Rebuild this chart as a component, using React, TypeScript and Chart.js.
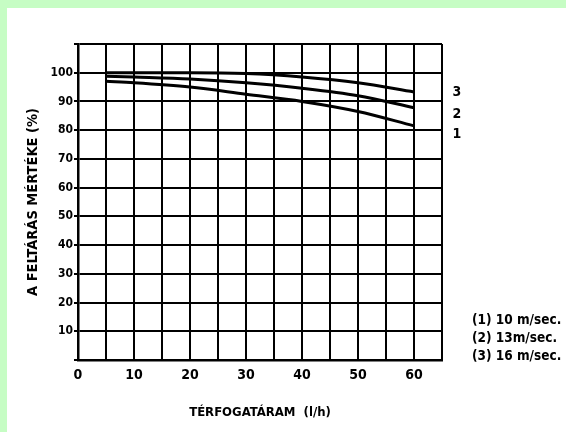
import React, { useEffect, useRef } from "react";
import { Chart, registerables } from "chart.js";

Chart.register(...registerables);

const flowRates = [5, 10, 20, 30, 40, 50, 60];
const curve1 = [97, 96.5, 95, 92.5, 90, 86.5, 81.5];
const curve2 = [98.8, 98.5, 97.8, 96.5, 94.6, 92, 87.8];
const curve3 = [100, 100, 100, 99.7, 98.5, 96.5, 93.3];
const curveNames = ["1", "2", "3"];
const legendLines = ["(1) 10 m/sec.", "(2) 13m/sec.", "(3) 16 m/sec."];
const yTitle = "A FELTÁRÁS MÉRTÉKE (%)";
const xTitle = "TÉRFOGATÁRAM  (l/h)";

const FONT = "'DejaVu Sans Condensed', 'Liberation Sans', sans-serif";

const toPoints = (ys: number[]) => flowRates.map((x, i) => ({ x, y: ys[i] }));

const annotations = {
  id: "annotations",
  afterDraw(chart: any) {
    const { ctx, chartArea, scales } = chart;
    const y = scales.y;
    ctx.save();
    ctx.fillStyle = "#000";
    ctx.font = `bold 14px ${FONT}`;
    ctx.textAlign = "center";
    ctx.textBaseline = "middle";
    const labelVals = [78.5, 85.5, 93];
    curveNames.forEach((n, i) => {
      ctx.fillText(n, chartArea.right + 15, y.getPixelForValue(labelVals[i]));
    });
    ctx.font = `bold 13.5px ${FONT}`;
    ctx.textAlign = "left";
    legendLines.forEach((t, i) => {
      ctx.fillText(t, chartArea.right + 30, chartArea.bottom - 40 + i * 18);
    });
    ctx.restore();
  },
};

export default function App() {
  const ref = useRef<HTMLCanvasElement>(null);
  useEffect(() => {
    if (!ref.current) return;
    const lineStyle = {
      borderColor: "#000",
      borderWidth: 3,
      pointRadius: 0,
      fill: false,
      tension: 0.4,
      cubicInterpolationMode: "monotone" as const,
    };
    const chart = new Chart(ref.current, {
      type: "line",
      data: {
        datasets: [
          { label: "1", data: toPoints(curve1), ...lineStyle },
          { label: "2", data: toPoints(curve2), ...lineStyle },
          { label: "3", data: toPoints(curve3), ...lineStyle },
        ],
      },
      options: {
        responsive: false,
        animation: false,
        layout: { padding: { left: 0, top: 44, right: 124, bottom: 0 } },
        plugins: { legend: { display: false }, tooltip: { enabled: false } },
        scales: {
          x: {
            type: "linear",
            min: 0,
            max: 65,
            afterFit: (s: any) => { s.height = 72; },
            border: { color: "#000", width: 2.5 },
            grid: { color: "#000", lineWidth: 2, drawTicks: false },
            ticks: {
              stepSize: 5,
              padding: 7,
              color: "#000",
              maxRotation: 0,
              autoSkip: false,
              font: { family: FONT, size: 14, weight: "bold" },
              callback: (v: any) => (v % 10 === 0 && v <= 60 ? String(v) : ""),
            },
            title: {
              display: true,
              text: xTitle,
              color: "#000",
              font: { family: FONT, size: 13, weight: "bold" },
              padding: { top: 0, bottom: 12 },
            },
          },
          y: {
            min: 0,
            max: 110,
            afterFit: (s: any) => { s.width = 78; },
            border: { color: "#000", width: 2.5 },
            grid: { color: "#000", lineWidth: 2, drawTicks: true, tickLength: 4 },
            ticks: {
              stepSize: 10,
              padding: 1,
              color: "#000",
              autoSkip: false,
              font: { family: FONT, size: 12, weight: "bold" },
              callback: (v: any) => (v === 0 || v === 110 ? "" : String(v)),
            },
            title: {
              display: true,
              text: yTitle,
              color: "#000",
              font: { family: FONT, size: 14.5, weight: "bold" },
              padding: { top: 25, bottom: 0 },
            },
          },
        },
      },
      plugins: [annotations],
    });
    return () => chart.destroy();
  }, []);

  return (
    <div style={{ position: "fixed", left: 0, top: 0, width: 566, height: 432, background: "#c6fdc4" }}>
      <div style={{ position: "absolute", left: 7, top: 8, right: 0, bottom: 0, background: "#fff" }} />
      <canvas ref={ref} width={566} height={432} style={{ position: "absolute", left: 0, top: 0, width: 566, height: 432 }} />
    </div>
  );
}
